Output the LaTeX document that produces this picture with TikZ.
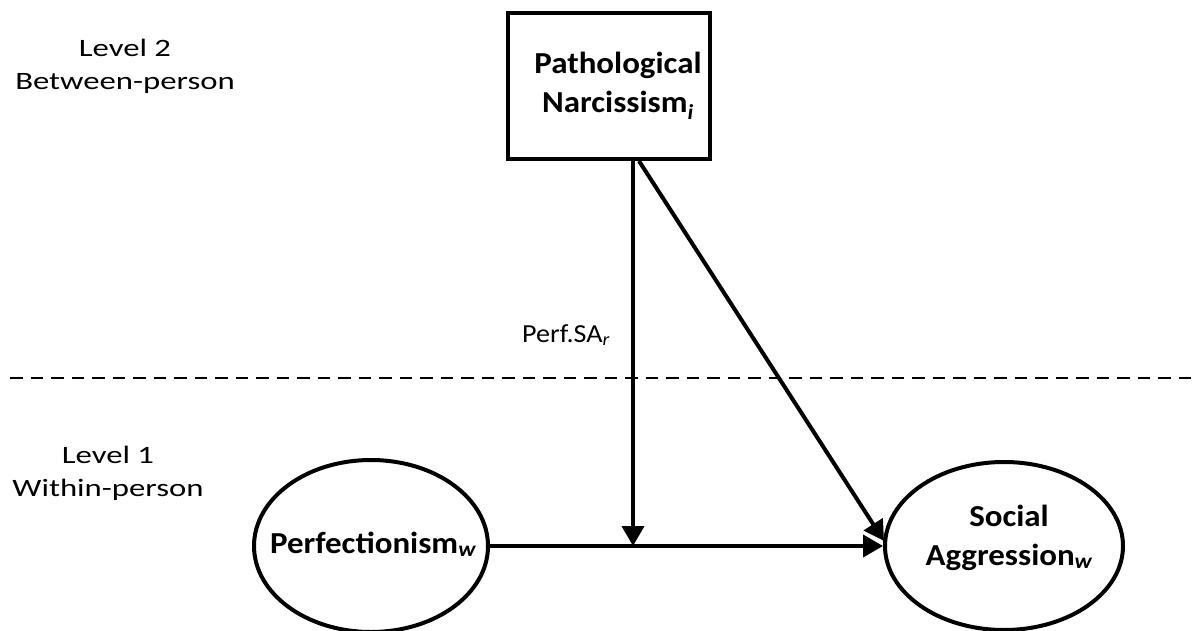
\documentclass[tikz,border=0pt]{standalone}
\usepackage{fontspec}
\setmainfont{Carlito}[FakeStretch=1.08]
\newfontfamily\levelfont{Carlito}[FakeStretch=1.31]
\usetikzlibrary{arrows.meta,calc,shapes.geometric}
\begin{document}
\begin{tikzpicture}[x=1pt,y=-1pt,
  every node/.style={inner sep=0pt},
  shapeline/.style={draw,line width=4pt},
  boldtext/.style={font=\fontsize{30.5}{39}\selectfont\bfseries,align=center},
  levellabel/.style={font=\levelfont\fontsize{25}{33}\selectfont,align=center},
  path/.style={line width=4pt,-{Triangle[length=20pt,width=22pt]}},
  divider/.style={line width=2.6pt,dash pattern=on 12.5pt off 8pt}]
  % canvas
  \useasboundingbox (0,0) rectangle (1199,631);

  % level labels (anchored on the baseline of the last line)
  \node[levellabel,anchor=base] (lvtwo) at (125,90) {Level 2\\Between-person};
  \node[levellabel,anchor=base] (lvone) at (108,496) {Level 1\\Within-person};

  % between/within divider, running off the right edge
  \coordinate (divL) at (10,378);
  \coordinate (divR) at (1215,378);
  \draw[divider] (divL) -- (divR);

  % constructs
  \node[shapeline,minimum width=202pt,minimum height=146pt] (pn) at (609,86) {};
  \node[boldtext,anchor=base] (pntext) at (618,113)
    {Pathological\\Narcissism\textsubscript{\itshape i}};
  \node[shapeline,ellipse,minimum width=234pt,minimum height=172pt] (perf) at (371,546) {};
  \node[boldtext,anchor=base] (perftext) at (373,553)
    {Perfectionism\textsubscript{\itshape w}};
  \node[shapeline,ellipse,minimum width=238pt,minimum height=168pt] (sa) at (1004,546) {};
  \node[boldtext,anchor=base] (satext) at (1009,565)
    {Social\\Aggression\textsubscript{\itshape w}};

  % paths
  \coordinate (modtop) at ($(pn.south)+(24,0)$);
  \coordinate (modtip) at ($(perf.east)!(modtop)!(sa.west)$);
  \coordinate (directtop) at ($(pn.south)+(30,0)$);
  \coordinate (directtip) at ($(sa.west)+(1,-5)$);
  \draw[path] (perf.east) -- (sa.west);
  \draw[path] (modtop) -- (modtip);
  \draw[path] (directtop) -- (directtip);

  % moderation label
  \node[font=\fontsize{26}{30}\selectfont,anchor=base west] (lab) at (522,342)
    {Perf.SA\textsubscript{\itshape r}};
\end{tikzpicture}
\end{document}
